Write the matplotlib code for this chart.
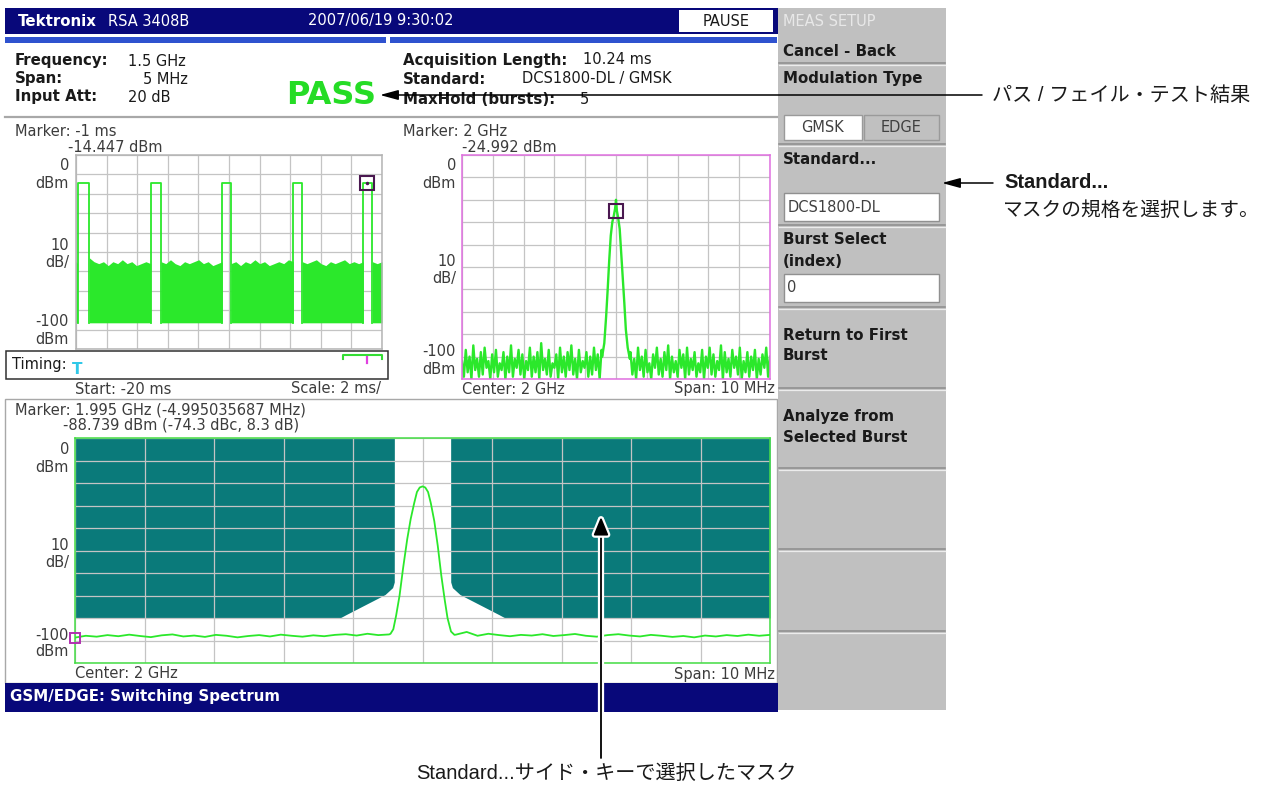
import matplotlib
matplotlib.use("Agg")
import matplotlib.pyplot as plt
import matplotlib.patches as mpatches
import matplotlib.patheffects as pe
import numpy as np

W, H = 1274, 787

# ---- values ----
# time domain (ms, dBm)
burst_start = [-19.89, -15.12, -10.44, -5.80, -1.22]
burst_end = [-19.13, -14.44, -9.87, -5.21, -0.63]
burst_top = -14.4
noise_floor = -86.5
noise_top = [
    [-55, -56],
    [-53, -55, -56, -55, -57, -55, -56, -54, -56, -55, -57, -56, -55, -56],
    [-55, -56, -54, -56, -57, -55, -56, -55, -54, -56, -55, -57, -56, -55],
    [-56, -55, -57, -55, -56, -54, -56, -55, -57, -56, -55, -56, -54, -55],
    [-55, -56, -55, -54, -56, -57, -55, -56, -55, -54, -56, -55, -56, -55],
    [-55, -56, -55],
]
time_marker = (-1.0, -14.447)

# spectrum (MHz offset from 2 GHz, dBm)
spec_noise_left = [
    -92, -99, -87, -97, -90, -100, -85, -96, -91, -99, -88, -98, -86, -95, -92, -100, -89, -97, -87, -99,
    -93, -96, -88, -100, -90, -97, -85, -99, -91, -95, -87, -98, -89, -100, -92, -96, -86, -99, -90, -97,
    -88, -100, -84, -96, -91, -98, -87, -99, -93, -95, -89, -100, -86, -97, -90, -99, -88, -96, -85, -98,
    -91, -100, -87, -97, -92, -95, -88, -99, -90, -98, -86, -96, -89, -100, -87]
spec_noise_right = [
    -88, -98, -91, -100, -86, -96, -90, -99, -87, -97, -93, -100, -89, -95, -86, -98, -91, -99, -88, -96,
    -85, -100, -90, -97, -92, -99, -87, -95, -89, -100, -86, -98, -91, -96, -88, -99, -93, -97, -87, -100,
    -90, -95, -86, -98, -89, -99, -92, -96, -85, -100, -88, -97, -91, -99, -87, -95, -90, -98, -86, -100,
    -92, -97, -88, -99, -90, -96, -87, -100, -91, -98, -89, -95, -86, -99, -90]
spec_peak_f = [-0.45, -0.38, -0.32, -0.27, -0.22, -0.17, -0.12, -0.07, -0.03, 0.0,
               0.03, 0.07, 0.12, 0.17, 0.22, 0.27, 0.32, 0.38, 0.45]
spec_peak_db = [-90, -84, -72, -60, -47, -36, -30, -27, -24, -20,
                -25, -28, -33, -44, -55, -66, -78, -86, -91]
spec_marker = (0.0, -24.992)

# switching spectrum with mask
mask_f = [-5.0, -1.19, -1.1, -0.54, -0.43, -0.406, -0.405, 0.405, 0.406, 0.43, 0.54, 1.1, 1.19, 5.0]
mask_db = [-80, -80, -78.5, -69.6, -66.5, -64, 0, 0, -64, -66.5, -69.6, -78.5, -80, -80]
sw_noise_left = [-88.7, -87.9, -88.3, -87.6, -88.1, -87.4, -88.0, -88.5, -87.7, -87.3,
                 -88.2, -87.8, -88.4, -87.5, -87.9, -88.6, -88.0, -87.6, -88.2, -87.4,
                 -87.9, -88.3, -87.7, -88.1, -87.5, -87.2, -87.8, -87.0, -87.6, -87.3]
sw_noise_right = [-87.4, -86.2, -87.9, -87.0, -87.6, -88.1, -87.5, -87.8, -87.2, -88.0,
                  -87.6, -87.1, -87.9, -88.3, -87.6, -87.2, -87.8, -88.2, -87.5, -87.9,
                  -88.4, -88.0, -88.6, -87.8, -88.2, -87.6, -88.0, -87.4, -87.9, -87.5]
sw_peak_f = [-0.46, -0.42, -0.38, -0.33, -0.28, -0.22, -0.17, -0.12, -0.08, -0.04, 0.0,
             0.04, 0.08, 0.12, 0.17, 0.22, 0.27, 0.32, 0.36, 0.41, 0.46]
sw_peak_db = [-87, -85, -79, -70, -58, -45, -36, -29, -24, -22, -21.5,
              -22, -24, -29, -37, -48, -61, -72, -80, -86, -87.5]
sw_marker = (-4.995, -88.739)

GREEN = "#2be82b"
NAVY = "#08087a"
TEAL = "#0a7a7a"
PANEL = "#c0c0c0"
LBL = "#3c3c3c"
CALLOUT = ["Liberation Sans", "Noto Sans CJK JP"]
plt.rcParams["font.family"] = ["DejaVu Sans", "Noto Sans CJK JP"]

fig = plt.figure(figsize=(W / 100, H / 100), dpi=100)
fig.patch.set_facecolor("white")


def px_axes(x0, y0, x1, y1, z=2):
    return fig.add_axes([x0 / W, 1 - y1 / H, (x1 - x0) / W, (y1 - y0) / H], zorder=z)


def canvas(z):
    ax = fig.add_axes([0, 0, 1, 1], zorder=z)
    ax.set_xlim(0, W)
    ax.set_ylim(H, 0)
    ax.axis("off")
    ax.patch.set_visible(False)
    return ax


bg = canvas(0)
over = canvas(10)


def rect(x0, y0, x1, y1, fc, ec="none", lw=0, z=1):
    bg.add_patch(mpatches.Rectangle((x0, y0), x1 - x0, y1 - y0, facecolor=fc,
                                    edgecolor=ec, linewidth=lw, zorder=z))


def txt(x, y, s, size=10.5, color="#1a1a1a", weight="normal", ha="left", ax=None, **kw):
    (ax or bg).text(x, y, s, fontsize=size, color=color, fontweight=weight,
                    ha=ha, va="center", zorder=5, **kw)


def scope(ax, xlim, border, below=True):
    ax.set_xlim(*xlim)
    ax.set_ylim(-100, 0)
    ax.set_xticks(np.linspace(xlim[0], xlim[1], 11))
    ax.set_yticks(np.linspace(-100, 0, 11))
    ax.tick_params(length=0, labelbottom=False, labelleft=False)
    ax.set_axisbelow(below)
    ax.grid(True, color="#c4c4c4", lw=0.9)
    for s in ax.spines.values():
        s.set_color(border)
        s.set_linewidth(1.1)


# ---- screen frame ----
rect(5, 8, 778, 34, NAVY)
rect(679, 10, 773, 32, "white")
txt(726, 21, "PAUSE", ha="center")
txt(18, 21, "Tektronix", color="white", weight="bold", size=10.8)
txt(108, 21, "RSA 3408B", color="white")
txt(308, 21, "2007/06/19 9:30:02", color="white")
rect(5, 37, 386, 43, "#2f52cf")
rect(390, 37, 777, 43, "#2f52cf")

txt(15, 61, "Frequency:", weight="bold", size=10.8)
txt(128, 61, "1.5 GHz")
txt(15, 79, "Span:", weight="bold", size=10.8)
txt(143, 79, "5 MHz")
txt(15, 97, "Input Att:", weight="bold", size=10.8)
txt(128, 97, "20 dB")
txt(403, 60, "Acquisition Length:", weight="bold", size=10.8)
txt(583, 60, "10.24 ms")
txt(403, 79, "Standard:", weight="bold", size=10.8)
txt(522, 79, "DCS1800-DL / GMSK")
txt(403, 100, "MaxHold (bursts):", weight="bold", size=10.8)
txt(580, 100, "5")
txt(331, 95, "PASS", color="#25dc25", weight="bold", size=23, ha="center")
bg.plot([5, 777], [117, 117], color="#a8a8a8", lw=1.6)

# ---- top-left: burst timing ----
txt(15, 131, "Marker: -1 ms", color=LBL)
txt(68, 147, "-14.447 dBm", color=LBL)
for yy, s in [(165, "0"), (183, "dBm"), (245, "10"), (263, "dB/"), (322, "-100"), (340, "dBm")]:
    txt(69, yy, s, color=LBL, ha="right")
ax1 = px_axes(76, 155, 382, 349)
scope(ax1, (-20, 0), "#b4b4b4")
edges = [-20.0] + burst_end
ends = burst_start + [0.0]
for a, b, tops in zip(edges, ends, noise_top):
    t = np.linspace(a, b, len(tops))
    ax1.fill_between(t, noise_floor, tops, color=GREEN, lw=0, zorder=2)
for a, b in zip(burst_start, burst_end):
    ax1.plot([a, a, b, b], [noise_floor, burst_top, burst_top, noise_floor], color=GREEN, lw=1.3, zorder=3)
ax1.plot(*time_marker, marker="s", ms=10.5, mfc="none", mec="#4a1850", mew=1.5, zorder=4)
ax1.plot(*time_marker, marker=".", ms=3, color="#4a1850", zorder=4)

rect(6, 351, 388, 379, "white", ec="#303030", lw=1.1, z=2)
txt(12, 365, "Timing:", color="#1a1a1a")
txt(77, 370, "T", color="#30c8e8", weight="bold", size=11, ha="center")
bg.plot([343, 343, 382, 382], [359, 355, 355, 359], color="#33dd33", lw=1.5, zorder=3)
bg.plot([367, 367], [357, 363], color="#e040e0", lw=1.6, zorder=3)
txt(75, 389, "Start: -20 ms", color=LBL)
txt(381, 389, "Scale: 2 ms/", color=LBL, ha="right")

# ---- top-right: spectrum ----
txt(403, 131, "Marker: 2 GHz", color=LBL)
txt(462, 147, "-24.992 dBm", color=LBL)
for yy, s in [(165, "0"), (183, "dBm"), (262, "10"), (279, "dB/"), (351, "-100"), (369, "dBm")]:
    txt(456, yy, s, color=LBL, ha="right")
ax2 = px_axes(462, 155, 770, 379)
scope(ax2, (-5, 5), "#e070e0")
f2 = np.concatenate([np.linspace(-5, -0.47, len(spec_noise_left)), spec_peak_f,
                     np.linspace(0.47, 5, len(spec_noise_right))])
d2 = np.concatenate([spec_noise_left, spec_peak_db, spec_noise_right])
ax2.plot(f2, d2, color=GREEN, lw=1.7, clip_on=True)
ax2.plot(*spec_marker, marker="s", ms=10.5, mfc="none", mec="#4a1850", mew=1.5, zorder=4)
txt(462, 389, "Center: 2 GHz", color=LBL)
txt(775, 389, "Span: 10 MHz", color=LBL, ha="right")

# ---- bottom: switching spectrum ----
rect(5, 399, 777, 683, "none", ec="#a8a8a8", lw=1, z=1)
txt(15, 410, "Marker: 1.995 GHz (-4.995035687 MHz)", color=LBL)
txt(63, 425, "-88.739 dBm (-74.3 dBc, 8.3 dB)", color=LBL)
for yy, s in [(450, "0"), (467, "dBm"), (545, "10"), (562, "dB/"), (635, "-100"), (652, "dBm")]:
    txt(69, yy, s, color=LBL, ha="right")
ax3 = px_axes(75, 438, 770, 663)
scope(ax3, (-5, 5), "#44dd44", below="line")
ax3.fill_between(mask_f, mask_db, 0, color=TEAL, lw=0, zorder=1)
f3 = np.concatenate([np.linspace(-5, -0.48, len(sw_noise_left)), sw_peak_f,
                     np.linspace(0.48, 5, len(sw_noise_right))])
d3 = np.concatenate([sw_noise_left, sw_peak_db, sw_noise_right])
ax3.plot(f3, d3, color=GREEN, lw=1.3, zorder=3)
ax3.plot(*sw_marker, marker="s", ms=6.5, mfc="none", mec="#b030b0", mew=1.4, zorder=4, clip_on=False)
txt(75, 674, "Center: 2 GHz", color=LBL)
txt(775, 674, "Span: 10 MHz", color=LBL, ha="right")

rect(5, 683, 778, 712, NAVY, z=2)
txt(10, 697, "GSM/EDGE: Switching Spectrum", color="white", weight="bold", size=10.8)

# ---- side menu ----
rect(778, 8, 946, 710, PANEL)
for yy in [63, 144, 225, 307, 388, 468, 549, 631]:
    bg.plot([779, 945], [yy, yy], color="#8c8c8c", lw=1.1, zorder=2)
    bg.plot([779, 945], [yy + 1.6, yy + 1.6], color="#ececec", lw=0.9, zorder=2)
txt(783, 22, "MEAS SETUP", color="#e8e8e8")
txt(783, 52, "Cancel - Back", weight="bold", size=10.8)
txt(783, 78, "Modulation Type", weight="bold", size=10.8)
rect(784, 115, 862, 140, "white", ec="#9a9a9a", lw=1, z=2)
rect(864, 115, 939, 140, PANEL, ec="#9a9a9a", lw=1, z=2)
txt(823, 128, "GMSK", color="#404040", ha="center")
txt(901, 128, "EDGE", color="#404040", ha="center")
txt(783, 159, "Standard...", weight="bold", size=10.8)
rect(784, 193, 939, 221, "white", ec="#909090", lw=1, z=2)
txt(788, 207, "DCS1800-DL", color="#404040")
txt(783, 240, "Burst Select", weight="bold", size=10.8)
txt(783, 261, "(index)", weight="bold", size=10.8)
rect(784, 274, 939, 302, "white", ec="#909090", lw=1, z=2)
txt(787, 288, "0", color="#404040")
txt(783, 335, "Return to First", weight="bold", size=10.8)
txt(783, 356, "Burst", weight="bold", size=10.8)
txt(783, 417, "Analyze from", weight="bold", size=10.8)
txt(783, 437, "Selected Burst", weight="bold", size=10.8)

# ---- callouts ----
over.annotate("", xy=(380, 95), xytext=(982, 95),
              arrowprops=dict(arrowstyle="-|>,head_length=1.1,head_width=0.3", color="black",
                              lw=1.1, mutation_scale=10, shrinkA=0, shrinkB=0))
txt(992, 95, "パス / フェイル・テスト結果", size=14.5, ax=over, family=CALLOUT)

over.annotate("", xy=(942, 183), xytext=(993, 183),
              arrowprops=dict(arrowstyle="-|>,head_length=1.1,head_width=0.3", color="black",
                              lw=1.1, mutation_scale=10, shrinkA=0, shrinkB=0))
txt(1004, 183, "Standard...", size=14.5, weight="bold", ax=over, family=CALLOUT)
txt(1003, 210, "マスクの規格を選択します。", size=14.2, ax=over, family=CALLOUT)

ann = over.annotate("", xy=(601, 517), xytext=(601, 758),
                    arrowprops=dict(arrowstyle="-|>,head_length=1.1,head_width=0.45", color="black",
                                    lw=1.3, mutation_scale=10, shrinkA=0, shrinkB=0))
ann.arrow_patch.set_path_effects([pe.withStroke(linewidth=4.5, foreground="white")])
txt(606, 773, "Standard...サイド・キーで選択したマスク", size=14.5, ha="center", ax=over, family=CALLOUT)

fig.savefig("out.png", dpi=100, facecolor="white")
